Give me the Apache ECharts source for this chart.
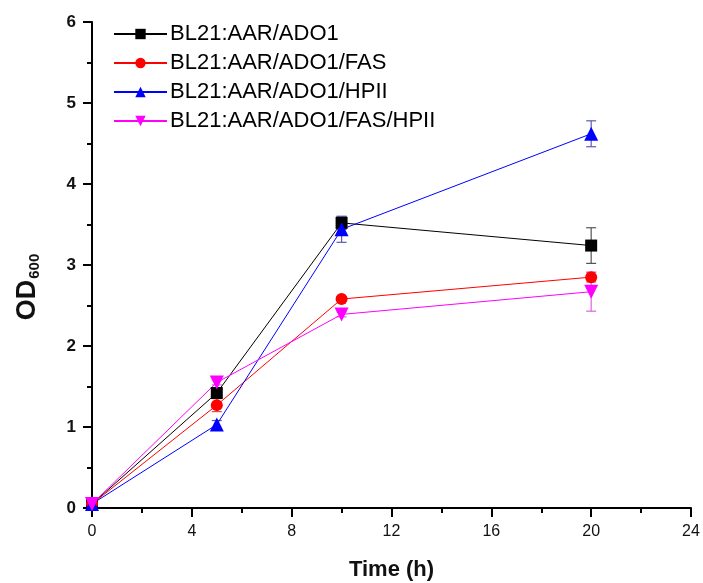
<!DOCTYPE html>
<html>
<head>
<meta charset="utf-8">
<script src="https://cdn.jsdelivr.net/npm/echarts@6/dist/echarts.min.js"></script>
<style>
  html, body { margin: 0; padding: 0; background: #fff; }
  #chart { width: 703px; height: 583px; }
</style>
</head>
<body>
<div id="chart"></div>
<script>
const times = [0, 5, 10, 20];
const names = ["BL21:AAR/ADO1", "BL21:AAR/ADO1/FAS", "BL21:AAR/ADO1/HPII", "BL21:AAR/ADO1/FAS/HPII"];
const odAdo = [0.05, 1.42, 3.52, 3.24];
const errAdo = [0.02, 0.05, 0.08, 0.22];
const odFas = [0.05, 1.27, 2.58, 2.85];
const errFas = [0.02, 0.08, 0.03, 0.06];
const odHpii = [0.05, 1.03, 3.44, 4.62];
const errHpii = [0.02, 0.05, 0.16, 0.16];
const odFasHpii = [0.05, 1.55, 2.39, 2.67];
const errFasHpii = [0.02, 0.03, 0.03, 0.24];

const font = "Liberation Sans, Arial, sans-serif";
const chart = echarts.init(document.getElementById("chart"));

const groups = [
  { name: names[0], vals: odAdo, errs: errAdo, color: "#000000", bar: "#555555", symbol: "rect", size: 12, rotate: 0 },
  { name: names[1], vals: odFas, errs: errFas, color: "#ff0000", bar: "#e05050", symbol: "circle", size: 12, rotate: 0 },
  { name: names[2], vals: odHpii, errs: errHpii, color: "#0000ff", bar: "#5a5ab8", symbol: "triangle", size: 14, rotate: 0 },
  { name: names[3], vals: odFasHpii, errs: errFasHpii, color: "#ff00ff", bar: "#e060e0", symbol: "triangle", size: 14, rotate: 180 },
];

const series = [];
groups.forEach((g) => {
  series.push({
    type: "custom",
    name: g.name + "-err",
    silent: true,
    z: 1,
    data: times.map((t, i) => [t, g.vals[i] - g.errs[i], g.vals[i] + g.errs[i]]),
    renderItem: (params, api) => {
      const lo = api.coord([api.value(0), api.value(1)]);
      const hi = api.coord([api.value(0), api.value(2)]);
      const st = { stroke: g.bar, lineWidth: 1.2 };
      return {
        type: "group",
        children: [
          { type: "line", shape: { x1: lo[0], y1: lo[1], x2: hi[0], y2: hi[1] }, style: st },
          { type: "line", shape: { x1: lo[0] - 5, y1: lo[1], x2: lo[0] + 5, y2: lo[1] }, style: st },
          { type: "line", shape: { x1: hi[0] - 5, y1: hi[1], x2: hi[0] + 5, y2: hi[1] }, style: st },
        ],
      };
    },
  });
  series.push({
    type: "line",
    name: g.name,
    z: 2,
    data: times.map((t, i) => [t, g.vals[i]]),
    symbol: g.symbol,
    symbolSize: g.size,
    symbolRotate: g.rotate,
    itemStyle: { color: g.color },
    lineStyle: { color: g.color, width: 1 },
    emphasis: { disabled: true },
  });
});

const option = {
  animation: false,
  backgroundColor: "#fff",
  grid: { left: 92, right: 12, top: 22, bottom: 75, outerBoundsMode: "none", containLabel: false },
  legend: {
    data: names,
    orient: "vertical",
    left: 108,
    top: 18,
    itemWidth: 53,
    itemHeight: 13,
    itemGap: 7,
    textStyle: { fontFamily: font, fontSize: 22, color: "#000", padding: [0, 0, 0, -2] },
  },
  xAxis: {
    type: "value",
    min: 0,
    max: 24,
    interval: 4,
    name: "Time (h)",
    nameLocation: "middle",
    nameGap: 51,
    nameTextStyle: { fontFamily: font, fontSize: 22, fontWeight: "bold", color: "#111" },
    axisLine: { lineStyle: { color: "#000", width: 2 } },
    axisTick: { inside: false, length: 9, lineStyle: { color: "#000", width: 2 } },
    minorTick: { show: true, splitNumber: 2, length: 5, lineStyle: { color: "#000", width: 2 } },
    axisLabel: { fontFamily: font, fontSize: 16, color: "#111", margin: 16 },
    splitLine: { show: false },
  },
  yAxis: {
    type: "value",
    min: 0,
    max: 6,
    interval: 1,
    name: "OD{sub|600}",
    nameLocation: "middle",
    nameRotate: 90,
    nameGap: 50,
    nameTextStyle: {
      fontFamily: font,
      fontSize: 27,
      fontWeight: "bold",
      color: "#111",
      padding: [0, 44, 0, 0],
      rich: {
        sub: { fontFamily: font, fontSize: 15, color: "#111", verticalAlign: "bottom", padding: [14, 0, 0, 1] },
      },
    },
    axisLine: { show: true, lineStyle: { color: "#000", width: 2 } },
    axisTick: { show: true, inside: false, length: 9, lineStyle: { color: "#000", width: 2 } },
    minorTick: { show: true, splitNumber: 2, length: 5, lineStyle: { color: "#000", width: 2 } },
    axisLabel: { fontFamily: font, fontSize: 17, fontWeight: "bold", color: "#111", margin: 16 },
    splitLine: { show: false },
  },
  series: series,
};

chart.setOption(option);
</script>
</body>
</html>
